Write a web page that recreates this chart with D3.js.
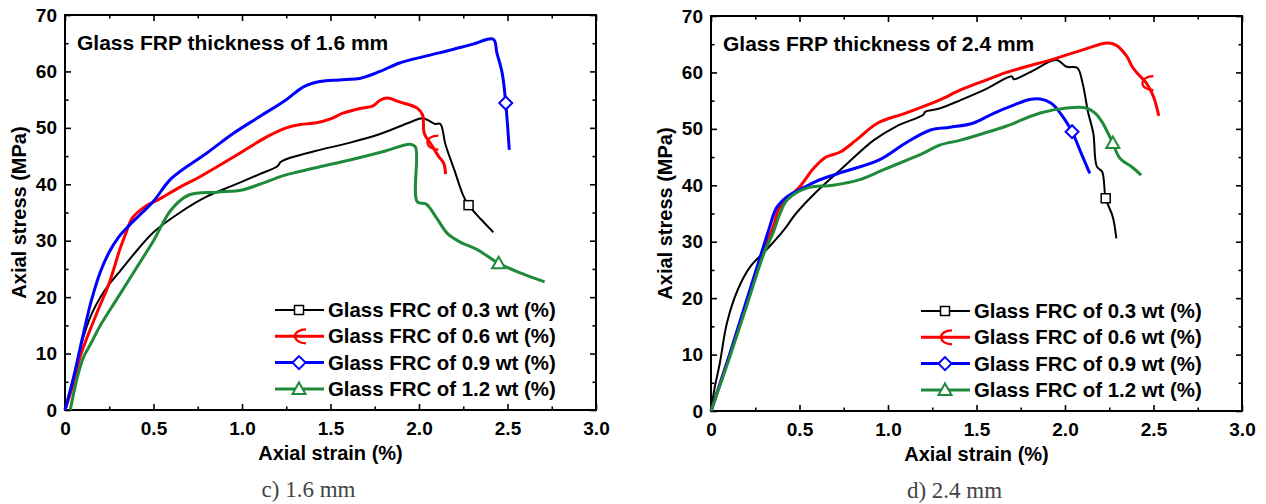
<!DOCTYPE html>
<html>
<head>
<meta charset="utf-8">
<script src="https://cdn.jsdelivr.net/npm/d3@7"></script>
<style>
  body { margin: 0; background: #fff; }
  text { font-family: "Liberation Sans", Arial, sans-serif; font-weight: bold; fill: #000; }
</style>
</head>
<body>
<div id="chart"></div>
<script>
// series labels / colours
const seriesNames = ["Glass FRC of 0.3 wt (%)", "Glass FRC of 0.6 wt (%)", "Glass FRC of 0.9 wt (%)", "Glass FRC of 1.2 wt (%)"]
const seriesColors = ["#000000", "#ff0000", "#0000ff", "#1f8a3a"]
const markerTypes = ["square", "epsilon", "diamond", "triangle"]

const xTicks = [0, 0.5, 1.0, 1.5, 2.0, 2.5, 3.0]
const yTicks = [0, 10, 20, 30, 40, 50, 60, 70]

// panel c) 1.6 mm  -- [strain %, stress MPa]
const c_03 = [[0,0],[0.05,6],[0.1,12.5],[0.15,17],[0.2,20],[0.25,22.3],[0.3,24.2],[0.41,28.4],[0.5,31.5],[0.65,35],[0.8,37.8],[0.95,39.8],[1.1,41.8],[1.2,43.2],[1.22,44],[1.33,45.2],[1.44,46.1],[1.6,47.3],[1.78,48.9],[1.95,51],[2.02,51.7],[2.06,51.2],[2.09,50.7],[2.12,50.7],[2.15,47],[2.2,42.5],[2.25,38],[2.28,36.3],[2.35,33.8],[2.42,31.5]]
const c_06 = [[0,0],[0.05,5],[0.085,9.4],[0.18,17.2],[0.25,22.5],[0.31,28.5],[0.34,31],[0.38,34],[0.45,36],[0.54,37.5],[0.65,39.5],[0.76,41.3],[0.95,44.8],[1.14,48.4],[1.25,50],[1.33,50.6],[1.42,50.9],[1.5,51.6],[1.57,52.6],[1.66,53.4],[1.74,53.9],[1.78,54.9],[1.82,55.3],[1.89,54.6],[1.99,53.5],[2.02,52.3],[2.03,49],[2.07,47],[2.11,45],[2.14,43.7],[2.15,41.8]]
const c_09 = [[0,0],[0.05,6],[0.1,13],[0.15,19.5],[0.2,24.5],[0.25,28],[0.3,30.5],[0.35,32.3],[0.42,34.5],[0.5,37],[0.6,41],[0.8,45.5],[0.95,49],[1.1,52],[1.25,55],[1.35,57.3],[1.44,58.2],[1.55,58.5],[1.67,58.8],[1.78,60],[1.89,61.5],[2.05,62.8],[2.18,63.8],[2.3,64.8],[2.42,65.7],[2.44,63.3],[2.47,59.7],[2.49,54.4],[2.51,46.1]]
const c_12 = [[0.03,0],[0.06,4.5],[0.1,9],[0.15,12],[0.2,15],[0.3,20],[0.4,25],[0.5,30],[0.6,35.5],[0.7,38.1],[0.86,38.6],[1.0,39],[1.1,40],[1.23,41.5],[1.33,42.3],[1.44,43.1],[1.61,44.3],[1.8,45.8],[1.95,47.1],[1.98,46.6],[1.99,36.9],[2.04,36.5],[2.1,34],[2.16,31.3],[2.23,29.8],[2.33,28.4],[2.45,26],[2.58,24.2],[2.71,22.7]]
const c_marks = [[2.28,36.3],[2.07,47.4],[2.49,54.4],[2.45,26]]

// panel d) 2.4 mm
const d_03 = [[0,0],[0.02,4],[0.05,8.5],[0.09,15.6],[0.15,21.4],[0.22,25.5],[0.32,28.8],[0.41,32],[0.48,35],[0.6,39],[0.73,42.7],[0.92,48],[1.05,50.5],[1.2,52.5],[1.21,53],[1.29,53.6],[1.41,55.1],[1.55,57],[1.7,59.3],[1.71,58.8],[1.8,60],[1.95,62.2],[2.01,61],[2.07,60.8],[2.1,58],[2.13,53],[2.16,49.2],[2.18,43.3],[2.21,42.4],[2.23,37.7],[2.27,34.4],[2.29,30.6]]
const d_06 = [[0,0],[0.1,9.5],[0.2,19],[0.3,28.5],[0.35,32.5],[0.39,36.2],[0.5,39.7],[0.58,43],[0.65,45],[0.73,45.9],[0.82,48],[0.94,51],[1.1,52.8],[1.29,55.1],[1.41,56.9],[1.55,58.6],[1.67,60],[1.95,62.5],[2.1,64],[2.24,65.2],[2.29,64.8],[2.35,62.8],[2.38,61],[2.41,59.8],[2.46,58.1],[2.5,55.7],[2.53,52.3]]
const d_09 = [[0,0],[0.1,9.5],[0.2,19.5],[0.3,29.5],[0.33,32.5],[0.37,36],[0.43,38],[0.5,39.2],[0.6,40.8],[0.73,42.2],[0.95,44.5],[1.1,47.5],[1.24,49.8],[1.35,50.3],[1.48,51],[1.6,52.8],[1.71,54.2],[1.8,55.2],[1.86,55.3],[1.92,54.6],[1.95,53.7],[2.0,51.6],[2.04,49.5],[2.09,45.8],[2.14,42.1]]
const d_12 = [[0,0],[0.1,9],[0.2,18.5],[0.3,28],[0.35,31.5],[0.39,35],[0.43,37.4],[0.54,39.5],[0.69,40],[0.84,41],[0.97,42.7],[1.2,45.7],[1.29,47.1],[1.41,48],[1.55,49.3],[1.67,50.5],[1.86,52.8],[2.01,53.7],[2.12,53.7],[2.17,52.8],[2.21,51.2],[2.25,48.8],[2.27,47.5],[2.31,44.8],[2.38,43.2],[2.43,41.8]]
const d_marks = [[2.23,37.7],[2.46,58.1],[2.04,49.5],[2.27,47.5]]

const W = 1266, H = 504

let svg = d3.select("#chart")
    .append("svg")
    .attr("width", W)
    .attr("height", H)

function marker(g, type, color) {
    if (type == "square") {
        g.append("rect").attr("x", -4.5).attr("y", -4.5).attr("width", 9).attr("height", 9)
            .attr("fill", "#fff").attr("stroke", color).attr("stroke-width", 1.5)
    } else if (type == "diamond") {
        g.append("path").attr("d", "M0,-6.5L6.5,0L0,6.5L-6.5,0Z")
            .attr("fill", "#fff").attr("stroke", color).attr("stroke-width", 2)
    } else if (type == "triangle") {
        g.append("path").attr("d", "M0,-6.5L6.5,5L-6.5,5Z")
            .attr("fill", "#fff").attr("stroke", color).attr("stroke-width", 2)
    } else {
        // the odd origin "epsilon" arrow symbol
        g.append("path").attr("d", "M7,-7C0,-7 -4,-3.5 -4,0C-4,3.5 0,7 7,7")
            .attr("fill", "none").attr("stroke", color).attr("stroke-width", 2.2)
    }
}

function drawPanel(left, top, curves, marks, label, caption) {
    const w = 531, h = 395
    let g = svg.append("g").attr("transform", `translate(${left},${top})`)

    let x = d3.scaleLinear().domain([0, 3]).range([0, w])
    let y = d3.scaleLinear().domain([0, 70]).range([h, 0])

    const fmtX = d => d === 0 ? "0" : d3.format(".1f")(d)
    const minorX = d3.range(0.25, 3, 0.5)
    const minorY = d3.range(5, 70, 10)

    // major axes with labels (ticks point inwards)
    g.append("g").attr("transform", `translate(0,${h})`)
        .call(d3.axisBottom(x).tickValues(xTicks).tickFormat(fmtX).tickSize(-6).tickSizeOuter(0).tickPadding(12))
        .attr("class", "ax")
    g.append("g")
        .call(d3.axisLeft(y).tickValues(yTicks).tickSize(-6).tickSizeOuter(0).tickPadding(8))
        .attr("class", "ax")
    // mirrored ticks
    g.append("g").call(d3.axisTop(x).tickValues(xTicks).tickFormat("").tickSize(-6).tickSizeOuter(0)).attr("class", "ax")
    g.append("g").attr("transform", `translate(${w},0)`)
        .call(d3.axisRight(y).tickValues(yTicks).tickFormat("").tickSize(-6).tickSizeOuter(0)).attr("class", "ax")
    // minor ticks
    g.append("g").attr("transform", `translate(0,${h})`).call(d3.axisBottom(x).tickValues(minorX).tickFormat("").tickSize(-3.5)).attr("class", "ax")
    g.append("g").call(d3.axisTop(x).tickValues(minorX).tickFormat("").tickSize(-3.5)).attr("class", "ax")
    g.append("g").call(d3.axisLeft(y).tickValues(minorY).tickFormat("").tickSize(-3.5)).attr("class", "ax")
    g.append("g").attr("transform", `translate(${w},0)`).call(d3.axisRight(y).tickValues(minorY).tickFormat("").tickSize(-3.5)).attr("class", "ax")

    g.selectAll(".ax .domain").remove()
    g.selectAll(".ax line").attr("stroke", "#000").attr("stroke-width", 1.6)
    g.selectAll(".ax text").attr("font-size", 19).attr("font-weight", "bold")
        .attr("font-family", "'Liberation Sans', Arial, sans-serif").attr("fill", "#000")

    g.append("rect").attr("width", w).attr("height", h)
        .attr("fill", "none").attr("stroke", "#000").attr("stroke-width", 2)

    let line = d3.line()
        .x(d => x(d[0]))
        .y(d => y(d[1]))
        .curve(d3.curveCatmullRom.alpha(0.5))

    curves.forEach((c, i) => {
        g.append("path").datum(c)
            .attr("d", line)
            .attr("fill", "none")
            .attr("stroke", seriesColors[i])
            .attr("stroke-width", i == 0 ? 2 : 3)
            .attr("stroke-linejoin", "round")
    })
    marks.forEach((m, i) => {
        let mg = g.append("g").attr("transform", `translate(${x(m[0])},${y(m[1])})`)
        marker(mg, markerTypes[i], seriesColors[i])
    })

    // legend
    let leg = g.append("g").attr("transform", `translate(210,295)`)
    seriesNames.forEach((name, i) => {
        let row = leg.append("g").attr("transform", `translate(0,${i * 26.3})`)
        row.append("line").attr("x1", 0).attr("x2", 49)
            .attr("stroke", seriesColors[i]).attr("stroke-width", i == 0 ? 2 : 3)
        let mg = row.append("g").attr("transform", "translate(24,0)")
        marker(mg, markerTypes[i], seriesColors[i])
        row.append("text").attr("x", 53).attr("y", 7).attr("font-size", 20.4).text(name)
    })

    g.append("text").attr("x", 12).attr("y", 35).attr("font-size", 21).text(label)

    g.append("text").attr("x", w / 2).attr("y", h + 50)
        .attr("text-anchor", "middle").attr("font-size", 20).text("Axial strain (%)")
    g.append("text")
        .attr("transform", `translate(-39,${h / 2}) rotate(-90)`)
        .attr("text-anchor", "middle").attr("font-size", 20).text("Axial stress (MPa)")

    g.append("text").attr("x", w / 2 - 22).attr("y", h + 87)
        .attr("text-anchor", "middle")
        .style("font-family", "'Liberation Serif', 'Times New Roman', serif")
        .style("font-weight", "normal").style("fill", "#444")
        .style("font-size", "23px").text(caption)
}

drawPanel(65, 15, [c_03, c_06, c_09, c_12], c_marks, "Glass FRP thickness of 1.6 mm", "c) 1.6 mm")
drawPanel(711, 16, [d_03, d_06, d_09, d_12], d_marks, "Glass FRP thickness of 2.4 mm", "d) 2.4 mm")
</script>
</body>
</html>
